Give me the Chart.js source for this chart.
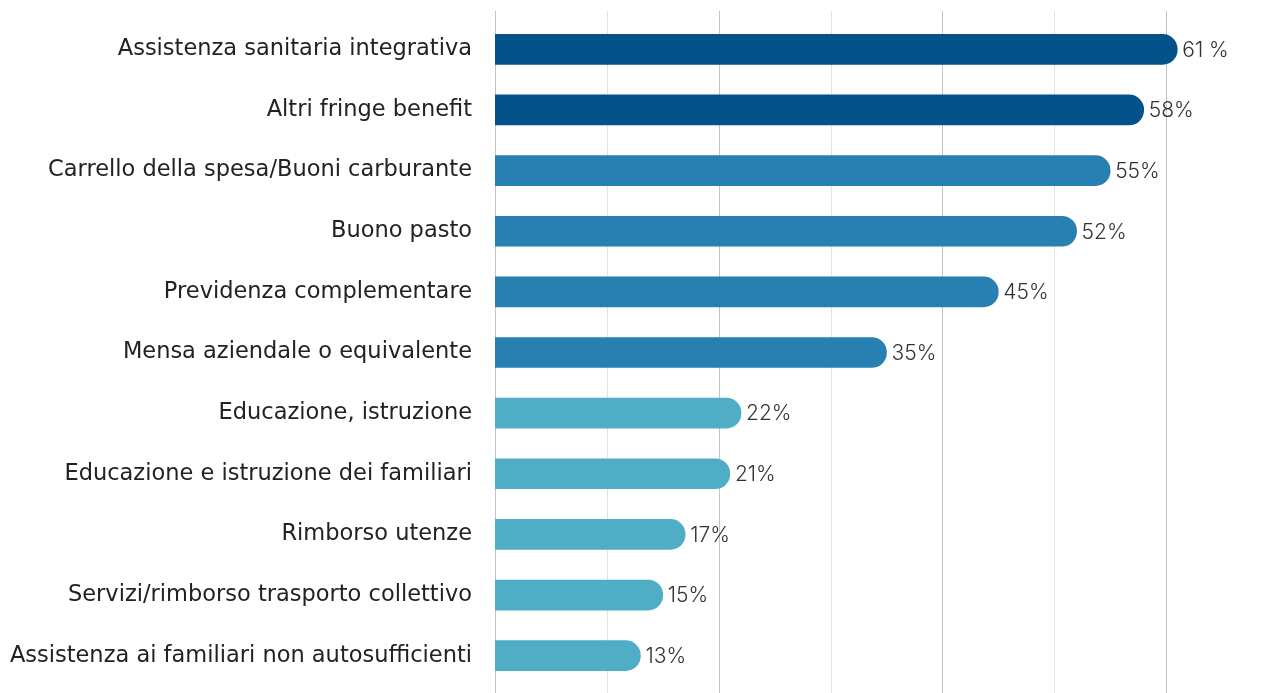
<!DOCTYPE html>
<html>
<head>
<meta charset="utf-8">
<script src="https://cdn.jsdelivr.net/npm/chart.js@4"></script>
<style>
html,body{margin:0;padding:0;background:#fff;}
#wrap{width:1271px;height:693px;position:relative;}
</style>
</head>
<body>
<div id="wrap"><canvas id="c" width="1271" height="693"></canvas></div>
<script>
const categories = [
  "Assistenza sanitaria integrativa",
  "Altri fringe benefit",
  "Carrello della spesa/Buoni carburante",
  "Buono pasto",
  "Previdenza complementare",
  "Mensa aziendale o equivalente",
  "Educazione, istruzione",
  "Educazione e istruzione dei familiari",
  "Rimborso utenze",
  "Servizi/rimborso trasporto collettivo",
  "Assistenza ai familiari non autosufficienti"
];
const values = [61, 58, 55, 52, 45, 35, 22, 21, 17, 15, 13];
const valueLabels = ["61 %", "58%", "55%", "52%", "45%", "35%", "22%", "21%", "17%", "15%", "13%"];
const barColors = ["#03528a","#03528a","#2780b1","#2780b1","#2780b1","#2780b1","#4faec5","#4faec5","#4faec5","#4faec5","#4faec5"];
const xTicks = [0, 10, 20, 30, 40, 50, 60];

const gridPlugin = {
  id: 'gridPlugin',
  beforeDatasetsDraw(chart) {
    const ctx = chart.ctx;
    const xs = chart.scales.x;
    ctx.save();
    xTicks.forEach((v, i) => {
      const x = Math.round(xs.getPixelForValue(v)) + 0.5;
      ctx.strokeStyle = (i % 2 === 0) ? '#c4c4c4' : '#e2e2e2';
      ctx.lineWidth = 1;
      ctx.beginPath();
      ctx.moveTo(x, 11);
      ctx.lineTo(x, 693);
      ctx.stroke();
    });
    ctx.restore();
  }
};

const valuePlugin = {
  id: 'valuePlugin',
  afterDatasetsDraw(chart) {
    const ctx = chart.ctx;
    const meta = chart.getDatasetMeta(0);
    ctx.save();
    ctx.font = '300 21px Inter';
    ctx.fillStyle = '#333333';
    ctx.textAlign = 'left';
    ctx.textBaseline = 'middle';
    meta.data.forEach((bar, i) => {
      ctx.fillText(valueLabels[i], bar.x + 5, bar.y + 1);
    });
    ctx.restore();
  }
};

new Chart(document.getElementById('c'), {
  type: 'bar',
  data: {
    labels: categories,
    datasets: [{
      data: values,
      backgroundColor: barColors,
      barThickness: 30,
      borderRadius: {topLeft: 0, bottomLeft: 0, topRight: 15, bottomRight: 15},
      borderSkipped: false
    }]
  },
  options: {
    indexAxis: 'y',
    responsive: false,
    animation: false,
    layout: { padding: { top: 19, bottom: 7, left: 0, right: 49 } },
    plugins: { legend: { display: false }, tooltip: { enabled: false } },
    scales: {
      x: {
        min: 0, max: 65,
        display: false,
        grid: { display: false },
        afterFit(scale) { scale.paddingTop = 0; scale.paddingBottom = 0; scale.paddingLeft = 0; scale.paddingRight = 0; }
      },
      y: {
        grid: { display: false, drawTicks: false },
        border: { display: false },
        afterFit(scale) { scale.width = 495; scale.paddingTop = 0; scale.paddingBottom = 0; },
        ticks: {
          padding: 23,
          color: '#222222',
          font: { family: 'DejaVu Sans', size: 22.5, weight: 'normal' }
        }
      }
    }
  },
  plugins: [gridPlugin, valuePlugin]
});
</script>
</body>
</html>
